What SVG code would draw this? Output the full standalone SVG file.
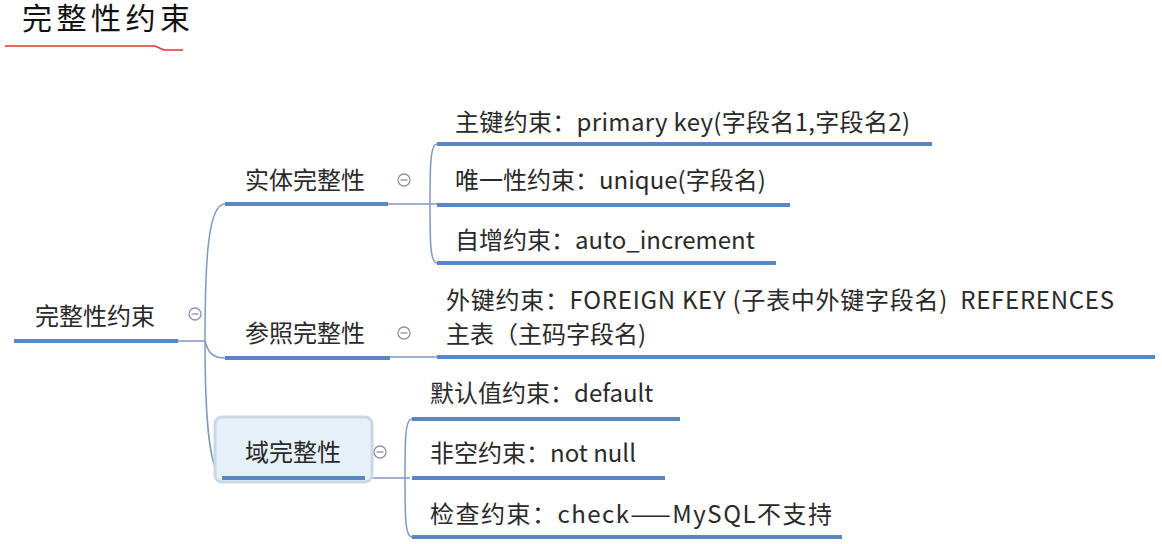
<svg xmlns="http://www.w3.org/2000/svg" width="1162" height="544" viewBox="0 0 1162 544">
<style>
text{font-family:"Microsoft YaHei","Noto Sans CJK SC","Noto Sans",sans-serif;fill:#2a2a2a;}
.t{font-size:24px;}
.ul{stroke:#5a86c4;stroke-width:4;fill:none;stroke-linecap:butt;}
.cn{stroke:#8199bf;stroke-width:1.5;fill:none;}
.col{fill:#fff;stroke:#8a94a6;stroke-width:1.3;}
.colm{stroke:#8a94a6;stroke-width:1.3;}
</style>
<rect width="1162" height="544" fill="#fff"/>
<g id="title">
<text x="22" y="29" textLength="168" style="font-size:30px;font-family:'Noto Sans CJK SC',sans-serif;fill:#111">完整性约束</text>
<path d="M5 46 L155 46 L164 50 L183 50" stroke="#e8322e" stroke-width="1.5" fill="none"/>
</g>
<g id="connectors">
<path class="cn" d="M178 341 L205 341"/>
<path class="cn" d="M205 341 C205 260 208 204 225 204"/>
<path class="cn" d="M205 341 C208 352 212 358 225 358"/>
<path class="cn" d="M205 341 C205 410 208 478 225 478"/>
<path class="cn" d="M388 204 L437 204"/>
<path class="cn" d="M430 204 C430 170 430 144 437 144"/>
<path class="cn" d="M430 204 C430 240 430 263 437 263"/>
<path class="cn" d="M390 357 L437 357"/>
<path class="cn" d="M365 478 L410 478"/>
<path class="cn" d="M405 478 C405 440 405 419 412 419"/>
<path class="cn" d="M405 478 C405 515 405 537 412 537"/>
</g>
<g id="root">
<text class="t" x="35" y="325">完整性约束</text>
<line class="ul" x1="14" y1="341" x2="178" y2="341"/>
<circle class="col" cx="195" cy="314" r="6"/><line class="colm" x1="191.5" y1="314" x2="198.5" y2="314"/>
</g>
<g id="entity">
<text class="t" x="245" y="189">实体完整性</text>
<line class="ul" x1="225" y1="204" x2="388" y2="204"/>
<circle class="col" cx="404" cy="180" r="6"/><line class="colm" x1="400.5" y1="180" x2="407.5" y2="180"/>
</g>
<g id="pk">
<text class="t" x="455" y="131" textLength="455">主键约束：primary key(字段名1,字段名2)</text>
<line class="ul" x1="437" y1="144" x2="932" y2="144"/>
</g>
<g id="uq">
<text class="t" x="455" y="189">唯一性约束：unique(字段名)</text>
<line class="ul" x1="437" y1="205" x2="790" y2="205"/>
</g>
<g id="ai">
<text class="t" x="455" y="249">自增约束：auto_increment</text>
<line class="ul" x1="437" y1="263" x2="776" y2="263"/>
</g>
<g id="ref">
<text class="t" x="245" y="342">参照完整性</text>
<line class="ul" x1="225" y1="358" x2="390" y2="358"/>
<circle class="col" cx="404" cy="333" r="6"/><line class="colm" x1="400.5" y1="333" x2="407.5" y2="333"/>
</g>
<g id="fk">
<text class="t" x="446" y="309" textLength="668">外键约束：FOREIGN KEY (子表中外键字段名)&#160; REFERENCES</text>
<text class="t" x="446" y="343">主表（主码字段名)</text>
<line class="ul" x1="437" y1="357" x2="1155" y2="357"/>
</g>
<g id="domain">
<rect x="215" y="417" width="157" height="65" rx="7" fill="#e6f0f8" stroke="#c9d9e8" stroke-width="3"/>
<text class="t" x="245" y="461">域完整性</text>
<line class="ul" x1="222" y1="478" x2="365" y2="478"/>
<circle class="col" cx="380" cy="452" r="6"/><line class="colm" x1="376.5" y1="452" x2="383.5" y2="452"/>
</g>
<g id="def">
<text class="t" x="430" y="402">默认值约束：default</text>
<line class="ul" x1="412" y1="419" x2="680" y2="419"/>
</g>
<g id="nn">
<text class="t" x="430" y="462">非空约束：not null</text>
<line class="ul" x1="412" y1="478" x2="665" y2="478"/>
</g>
<g id="ck">
<text class="t" x="430" y="523" textLength="402">检查约束：check——MySQL不支持</text>
<line class="ul" x1="412" y1="537" x2="842" y2="537"/>
</g>
</svg>
